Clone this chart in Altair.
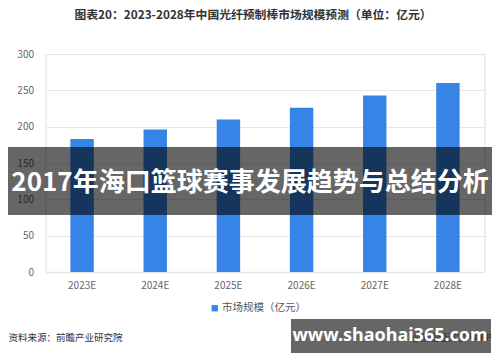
import altair as alt
import pandas as pd

years = ["2023E", "2024E", "2025E", "2026E", "2027E", "2028E"]
values = [183, 196, 210, 226, 243, 260]
series_name = "市场规模（亿元）"
y_ticks = [0, 50, 100, 150, 200, 250, 300]

title_text = "图表20：2023-2028年中国光纤预制棒市场规模预测（单位：亿元）"
source_text = "资料来源：前瞻产业研究院"
app_text = "@前瞻经济学人APP"
banner_text = "2017年海口篮球赛事发展趋势与总结分析"
site_text = "www.shaohai365.com"

df = pd.DataFrame({"year": years, "value": values, "series": [series_name] * len(years)})

FONT = "Noto Sans CJK SC"

bars = alt.Chart(df).mark_bar(color="#3684e6").encode(
    x=alt.X("year:N", sort=years,
            scale=alt.Scale(paddingInner=0.68, paddingOuter=0.34),
            axis=alt.Axis(title=None, labelAngle=0, domain=True, domainColor="#e6e6e6",
                          domainWidth=1.5, ticks=False, labelPadding=8,
                          labelFontSize=10, labelColor="#666666", labelFont=FONT)),
    y=alt.Y("value:Q", scale=alt.Scale(domain=[0, 300], nice=False),
            axis=alt.Axis(title=None, values=y_ticks, domain=False, ticks=False,
                          labelPadding=12, labelFontSize=10, labelColor="#666666",
                          labelFont=FONT, gridColor="#e6e6e6", gridWidth=1)),
    color=alt.Color("series:N", scale=alt.Scale(range=["#3684e6"]),
                    legend=alt.Legend(title=None, orient="none", legendX=164, legendY=249,
                                      symbolType="square", symbolSize=40,
                                      symbolStrokeWidth=0, labelFontSize=10.5,
                                      labelColor="#555555", labelFont=FONT, labelOffset=2)),
)

src_df = pd.DataFrame({"t": [source_text]})
source = alt.Chart(src_df).mark_text(align="left", baseline="middle", fontSize=9.5,
                                     color="#333333", font=FONT).encode(
    text="t:N", x=alt.value(-37), y=alt.value(284))

app_df = pd.DataFrame({"t": [app_text]})
app = alt.Chart(app_df).mark_text(align="right", baseline="middle", fontSize=9,
                                  color="#666666", font=FONT).encode(
    text="t:N", x=alt.value(446), y=alt.value(284))

band = alt.Chart(pd.DataFrame({"a": [0]})).mark_rect(color="#000000", opacity=0.6).encode(
    x=alt.value(-46), x2=alt.value(455), y=alt.value(93), y2=alt.value(161))

band_txt = alt.Chart(pd.DataFrame({"t": [banner_text]})).mark_text(
    align="center", baseline="middle", fontSize=26, fontWeight="bold",
    color="#ffffff", font=FONT).encode(text="t:N", x=alt.value(204.5), y=alt.value(129))

site_box = alt.Chart(pd.DataFrame({"a": [0]})).mark_rect(color="#000000", opacity=0.6).encode(
    x=alt.value(245.5), x2=alt.value(445.5), y=alt.value(265), y2=alt.value(299))

site_txt = alt.Chart(pd.DataFrame({"t": [site_text]})).mark_text(
    align="center", baseline="middle", fontSize=18, fontWeight="bold",
    color="#ffffff", font="Noto Sans").encode(text="t:N", x=alt.value(344.5), y=alt.value(282))

chart = alt.layer(bars, source, app, band, band_txt, site_box, site_txt).properties(
    width=439, height=218,
    autosize=alt.AutoSizeParams(type="none"),
    padding={"left": 37.5, "top": 46, "right": 7.5, "bottom": 82},
    title=alt.TitleParams(title_text, anchor="middle", frame="group", offset=27, dx=-12,
                          fontSize=11.8, fontWeight="bold", color="#333333", font=FONT),
).configure_view(stroke=None).configure(background="#ffffff")

chart.save("out.html", embed_options={"renderer": "svg", "actions": False})
